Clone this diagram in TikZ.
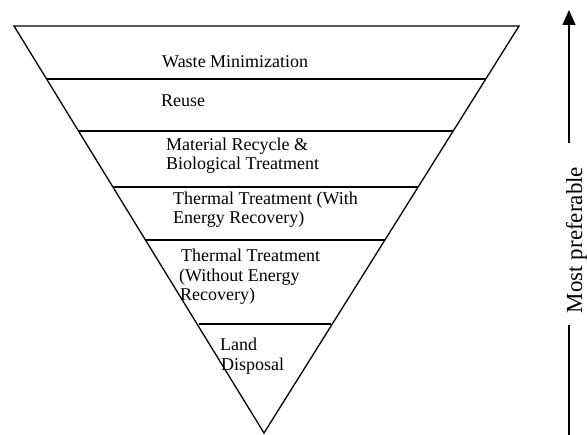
\documentclass[tikz,border=0pt]{standalone}
\usepackage{fontspec}
\setmainfont{Liberation Serif}
\usetikzlibrary{arrows.meta}
\begin{document}
\begin{tikzpicture}[x=1pt,y=-1pt,
  edge/.style={line width=1.3pt, line join=miter},
  lbl/.style={anchor=base west, inner sep=0pt, font=\fontsize{18}{20}\selectfont},
  side/.style={anchor=base, inner sep=0pt, rotate=90, font=\fontsize{23}{26}\selectfont},
]
\useasboundingbox (0,0) rectangle (587,435);
% outer inverted triangle
\coordinate (TL) at (14,26);
\coordinate (TR) at (519,26);
\coordinate (AP) at (264,433);
\draw[edge] (TL) -- (TR) -- (AP) -- cycle;
% dividing lines
\coordinate (L1) at (46.6,79);  \coordinate (R1) at (485.8,79);
\coordinate (L2) at (78.5,131); \coordinate (R2) at (453.2,131);
\coordinate (L3) at (112.9,187);\coordinate (R3) at (418.0,187);
\coordinate (L4) at (145.5,240);\coordinate (R4) at (384.9,240);
\coordinate (L5) at (198.5,324);\coordinate (R5) at (331,324);
\draw[edge] (L1) -- (R1);
\draw[edge] (L2) -- (R2);
\draw[edge] (L3) -- (R3);
\draw[edge] (L4) -- (R4);
\draw[edge] (L5) -- (R5);
% labels
\node[lbl] (t1)  at (162,68)  {Waste Minimization};
\node[lbl] (t2)  at (161,107) {Reuse};
\node[lbl] (t3a) at (166,151) {Material Recycle \&};
\node[lbl] (t3b) at (166,170) {Biological Treatment};
\node[lbl] (t4a) at (173,205) {Thermal Treatment (With};
\node[lbl] (t4b) at (173,224) {Energy Recovery)};
\node[lbl] (t5a) at (181,262) {Thermal Treatment};
\node[lbl] (t5b) at (179,282) {(Without Energy};
\node[lbl] (t5c) at (180,301) {Recovery)};
\node[lbl] (t6a) at (220,351) {Land};
\node[lbl] (t6b) at (221,371) {Disposal};
% preference arrow
\coordinate (A0) at (569,435);
\coordinate (A1) at (569,325);
\coordinate (A2) at (569,143);
\coordinate (A3) at (569,10);
\node[side] (mp) at (582,240) {Most preferable};
\draw[line width=1.3pt] (A0) -- (A1);
\draw[line width=1.3pt, -{Triangle[width=13pt,length=15pt]}] (A2) -- (A3);
\end{tikzpicture}
\end{document}
